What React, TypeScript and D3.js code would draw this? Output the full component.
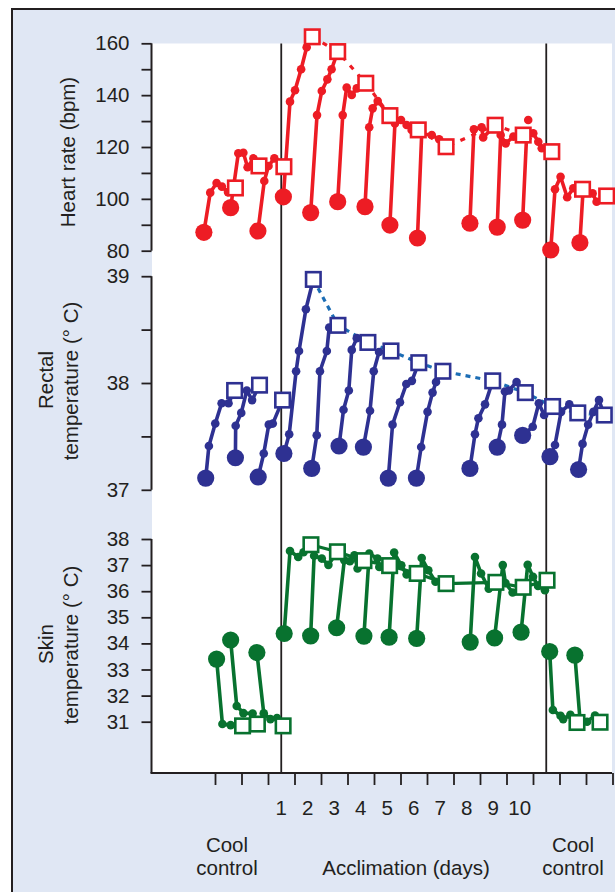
import React, { useEffect, useRef } from 'react';
import * as d3 from 'd3';

type Pt = [number, number];

// x positions are in "acclimation day" units; control runs sit left of day 1 and right of day 11
const dayTicks = d3.range(-1.5, 13.6, 1);
const dayLabels = [1, 2, 3, 4, 5, 6, 7, 8, 9, 10];

const heartTicks = [80, 90, 100, 110, 120, 130, 140, 150, 160];
const heartTickLabels = [80, 100, 120, 140, 160];
const rectalTicks = [37, 37.5, 38, 38.5, 39];
const rectalTickLabels = [37, 38, 39];
const skinTicks = [31, 32, 33, 34, 35, 36, 37, 38];
const skinTickLabels = [31, 32, 33, 34, 35, 36, 37, 38];

// each run: first point = start (big dot), last point = end (open square)
const heartRuns: Pt[][] = [
  [[-1.92, 87.1], [-1.68, 102.4], [-1.44, 106.1], [-1.24, 104.7], [-1.01, 102.6], [-0.73, 104.2]],
  [[-0.91, 96.6], [-0.62, 117.6], [-0.43, 117.8], [-0.27, 112.2], [-0.05, 115.6], [0.16, 112.7]],
  [[0.12, 87.6], [0.36, 106.9], [0.52, 112.7], [0.74, 115.6], [1.1, 112.4]],
  [[1.08, 100.8], [1.33, 137.5], [1.52, 141.9], [1.75, 150.0], [1.96, 158.5], [2.17, 162.5]],
  [[2.11, 94.7], [2.35, 132.3], [2.53, 141.6], [2.74, 146.1], [2.9, 150.0], [3.13, 156.8]],
  [[3.13, 98.9], [3.32, 132.3], [3.47, 142.9], [3.66, 140.1], [3.85, 142.6], [4.19, 144.6]],
  [[4.16, 97.0], [4.32, 127.6], [4.45, 134.9], [4.64, 137.7], [5.1, 132.1]],
  [[5.1, 89.9], [5.29, 129.1], [5.52, 130.4], [5.73, 128.5], [5.92, 126.6], [6.17, 126.6]],
  [[6.14, 84.9], [6.3, 125.0], [6.68, 124.6], [6.96, 123.0], [7.22, 120.1]],
  [[8.12, 90.6], [8.27, 126.8], [8.56, 127.6], [8.62, 123.7], [9.07, 128.4]],
  [[9.15, 89.1], [9.28, 124.6], [9.47, 121.4], [9.76, 124.0], [10.13, 124.6]],
  [[10.11, 91.8], [10.26, 124.6], [10.51, 125.3], [10.7, 122.0], [10.83, 119.5], [11.21, 118.2]],
  [[11.17, 80.3], [11.33, 103.7], [11.54, 108.5], [11.79, 100.6], [12.02, 104.1], [12.37, 103.7]],
  [[12.27, 83.1], [12.39, 103.5], [12.75, 102.1], [12.9, 98.9], [13.28, 101.1]],
];
const heartExtra: Pt[] = [[10.32, 130.4]];

const rectalRuns: Pt[][] = [
  [[-1.85, 37.11], [-1.73, 37.41], [-1.49, 37.62], [-1.25, 37.81], [-0.99, 37.81], [-0.76, 37.93]],
  [[-0.73, 37.3], [-0.72, 37.6], [-0.51, 37.72], [-0.3, 37.93], [-0.1, 37.84], [0.18, 37.98]],
  [[0.13, 37.12], [0.34, 37.34], [0.53, 37.61], [0.68, 37.62], [1.05, 37.84]],
  [[1.1, 37.34], [1.3, 37.52], [1.56, 38.11], [1.67, 38.3], [1.93, 38.69], [2.21, 38.97]],
  [[2.15, 37.2], [2.34, 37.51], [2.46, 38.11], [2.72, 38.3], [2.81, 38.52], [3.14, 38.54]],
  [[3.18, 37.41], [3.35, 37.75], [3.55, 37.93], [3.66, 38.31], [3.85, 38.42], [4.27, 38.38]],
  [[4.1, 37.4], [4.35, 37.74], [4.49, 38.11], [4.69, 38.29], [5.14, 38.3]],
  [[5.04, 37.11], [5.2, 37.61], [5.48, 37.82], [5.72, 37.99], [5.93, 38.02], [6.19, 38.19]],
  [[6.1, 37.11], [6.28, 37.4], [6.52, 37.73], [6.71, 37.91], [6.84, 38.01], [7.1, 38.11]],
  [[8.12, 37.2], [8.31, 37.52], [8.44, 37.67], [8.69, 37.8], [8.98, 38.02]],
  [[9.15, 37.4], [9.33, 37.61], [9.44, 37.92], [9.59, 37.93], [9.88, 38.01], [10.21, 37.91]],
  [[10.11, 37.51], [10.49, 37.59], [10.72, 37.81], [10.92, 37.7], [11.24, 37.78]],
  [[11.14, 37.31], [11.33, 37.42], [11.56, 37.73], [11.87, 37.8], [12.19, 37.72]],
  [[12.22, 37.19], [12.37, 37.43], [12.58, 37.61], [12.78, 37.73], [12.99, 37.84], [13.19, 37.7]],
];

const skinRuns: Pt[][] = [
  [[-1.44, 33.4], [-1.22, 30.91], [-0.91, 30.87], [-0.46, 30.84]],
  [[-0.91, 34.13], [-0.68, 31.6], [-0.43, 31.33], [-0.08, 31.31], [0.1, 30.91]],
  [[0.08, 33.65], [0.34, 31.32], [0.59, 31.1], [0.84, 31.14], [1.07, 30.84]],
  [[1.11, 34.38], [1.33, 37.54], [1.64, 37.31], [1.84, 37.49], [2.12, 37.78]],
  [[2.11, 34.29], [2.24, 37.36], [2.53, 37.25], [2.78, 37.01], [3.12, 37.51]],
  [[3.09, 34.6], [3.38, 37.19], [3.59, 37.15], [3.76, 37.38], [3.88, 36.87], [4.12, 37.17]],
  [[4.12, 34.28], [4.32, 37.44], [4.63, 37.25], [4.7, 36.93], [5.09, 36.98]],
  [[5.07, 34.24], [5.26, 37.48], [5.53, 36.99], [5.73, 36.64], [6.13, 36.68]],
  [[6.11, 34.19], [6.3, 37.27], [6.55, 36.8], [6.82, 36.36], [7.22, 36.29]],
  [[8.13, 34.05], [8.31, 37.31], [8.54, 36.68], [8.83, 36.1], [9.1, 36.34]],
  [[9.05, 34.21], [9.36, 37.0], [9.46, 36.31], [9.73, 35.95], [10.13, 36.15]],
  [[10.05, 34.43], [10.3, 37.01], [10.5, 36.55], [10.69, 36.2], [10.95, 36.04], [11.03, 36.42]],
  [[11.13, 33.69], [11.25, 31.45], [11.54, 31.23], [11.64, 31.1], [11.91, 31.26], [12.16, 30.97]],
  [[12.08, 33.55], [12.27, 31.12], [12.54, 31.0], [12.84, 31.24], [13.03, 30.98]],
];

const FONT = '"Liberation Sans", Arial, Helvetica, sans-serif';
const INK = '#231f20';

export default function App() {
  const ref = useRef<SVGSVGElement>(null);

  useEffect(() => {
    const svg = d3.select(ref.current);
    svg.selectAll('*').remove();

    const x = d3.scaleLinear().domain([-1.5, 13.5]).range([215, 612.5]);
    const yHeart = d3.scaleLinear().domain([80, 160]).range([250.7, 43.3]);
    const yRectal = d3.scaleLinear().domain([37, 39]).range([489.8, 276.2]);
    const ySkin = d3.scaleLinear().domain([31, 38]).range([721.7, 539]);
    const axisLeft = 151.5;
    const bottom = 773;

    // background frame
    svg.append('rect')
      .attr('x', 12).attr('y', 9).attr('width', 620).attr('height', 900)
      .attr('fill', '#e0e7f4').attr('stroke', INK).attr('stroke-width', 2);
    svg.append('rect')
      .attr('x', 152).attr('y', 43.5).attr('width', 460).attr('height', bottom - 43.5)
      .attr('fill', '#ffffff');

    // period separators
    [1, 11].forEach(d => {
      svg.append('line')
        .attr('x1', x(d)).attr('x2', x(d)).attr('y1', 43.5).attr('y2', bottom)
        .attr('stroke', INK).attr('stroke-width', 1.8);
    });

    // y axes
    const drawAxis = (scale: d3.ScaleLinear<number, number>, ticks: number[], labels: number[], y0: number, y1: number) => {
      const g = svg.append('g')
        .attr('transform', `translate(${axisLeft},0)`)
        .call(d3.axisLeft(scale).tickValues(ticks).tickSize(10).tickSizeOuter(0).tickPadding(12)
          .tickFormat(d => (labels.includes(+d) ? String(d) : '')));
      g.select('.domain').remove();
      g.selectAll('line').attr('stroke', INK).attr('stroke-width', 1.8);
      g.selectAll('text').attr('fill', INK).style('font-size', '20.5px').style('font-family', FONT);
      svg.append('line')
        .attr('x1', axisLeft).attr('x2', axisLeft).attr('y1', y0).attr('y2', y1)
        .attr('stroke', INK).attr('stroke-width', 2);
    };
    drawAxis(yHeart, heartTicks, heartTickLabels, yHeart(160), yHeart(80));
    drawAxis(yRectal, rectalTicks, rectalTickLabels, yRectal(39), yRectal(37));
    drawAxis(ySkin, skinTicks, skinTickLabels, ySkin(38), bottom);

    // x axis
    svg.append('line')
      .attr('x1', axisLeft - 1).attr('x2', 612).attr('y1', bottom).attr('y2', bottom)
      .attr('stroke', INK).attr('stroke-width', 2);
    const gx = svg.append('g')
      .attr('transform', `translate(0,${bottom})`)
      .call(d3.axisBottom(x).tickValues(dayTicks).tickSize(12).tickSizeOuter(0).tickFormat(() => ''));
    gx.select('.domain').remove();
    gx.selectAll('line').attr('stroke', INK).attr('stroke-width', 1.8);

    const text = (t: string, tx: number, ty: number, anchor = 'middle') =>
      svg.append('text')
        .attr('x', tx).attr('y', ty)
        .attr('text-anchor', anchor)
        .attr('fill', INK)
        .style('font-size', '20.5px')
        .style('font-family', FONT)
        .text(t);

    dayLabels.forEach(d => text(String(d), x(d), 815));
    text('Cool', 227, 852);
    text('control', 227, 875);
    text('Cool', 573, 852);
    text('control', 573, 875);
    text('Acclimation (days)', 406, 875);

    const vText = (t: string, tx: number, ty: number) =>
      svg.append('text')
        .attr('transform', `translate(${tx},${ty}) rotate(-90)`)
        .attr('text-anchor', 'middle')
        .attr('fill', INK)
        .style('font-size', '20.5px')
        .style('font-family', FONT)
        .text(t);

    vText('Heart rate (bpm)', 75, 152);
    vText('Rectal', 53, 380);
    vText('temperature (° C)', 78, 381);
    vText('Skin', 53, 644);
    vText('temperature (° C)', 78, 645);

    // data panels
    const drawPanel = (
      runs: Pt[][],
      yS: d3.ScaleLinear<number, number>,
      color: string,
      trend: { from: number; to: number; color: string; dash: string | null },
      extra: Pt[] = [],
    ) => {
      const g = svg.append('g');
      const line = d3.line<Pt>().x(p => x(p[0])).y(p => yS(p[1]));

      const ends = runs.slice(trend.from, trend.to + 1).map(r => r[r.length - 1]);
      g.append('path')
        .attr('d', line(ends))
        .attr('fill', 'none')
        .attr('stroke', trend.color)
        .attr('stroke-width', 3.2)
        .attr('stroke-dasharray', trend.dash);

      g.selectAll('path.run')
        .data(runs)
        .enter()
        .append('path')
        .attr('class', 'run')
        .attr('d', r => line(r))
        .attr('fill', 'none')
        .attr('stroke', color)
        .attr('stroke-width', 3.6)
        .attr('stroke-linejoin', 'round');

      const small = runs.flatMap(r => r.slice(1, -1)).concat(extra);
      g.selectAll('circle.small')
        .data(small)
        .enter()
        .append('circle')
        .attr('class', 'small')
        .attr('cx', p => x(p[0]))
        .attr('cy', p => yS(p[1]))
        .attr('r', 4.3)
        .attr('fill', color);

      g.selectAll('circle.big')
        .data(runs.map(r => r[0]))
        .enter()
        .append('circle')
        .attr('class', 'big')
        .attr('cx', p => x(p[0]))
        .attr('cy', p => yS(p[1]))
        .attr('r', 8.6)
        .attr('fill', color);

      const s = 14.5;
      g.selectAll('rect.end')
        .data(runs.map(r => r[r.length - 1]))
        .enter()
        .append('rect')
        .attr('class', 'end')
        .attr('x', p => x(p[0]) - s / 2)
        .attr('y', p => yS(p[1]) - s / 2)
        .attr('width', s)
        .attr('height', s)
        .attr('fill', '#ffffff')
        .attr('stroke', color)
        .attr('stroke-width', 2.6);
    };

    drawPanel(heartRuns, yHeart, '#ed1c24', { from: 3, to: 11, color: '#ed1c24', dash: '5,7' }, heartExtra);
    drawPanel(rectalRuns, yRectal, '#2e3192', { from: 3, to: 13, color: '#1c6db5', dash: '5,5' });
    drawPanel(skinRuns, ySkin, '#08722f', { from: 3, to: 11, color: '#08722f', dash: null });
  }, []);

  return (
    <svg
      ref={ref}
      width={615}
      height={892}
      style={{ position: 'absolute', left: 0, top: 0, background: '#ffffff' }}
    />
  );
}
